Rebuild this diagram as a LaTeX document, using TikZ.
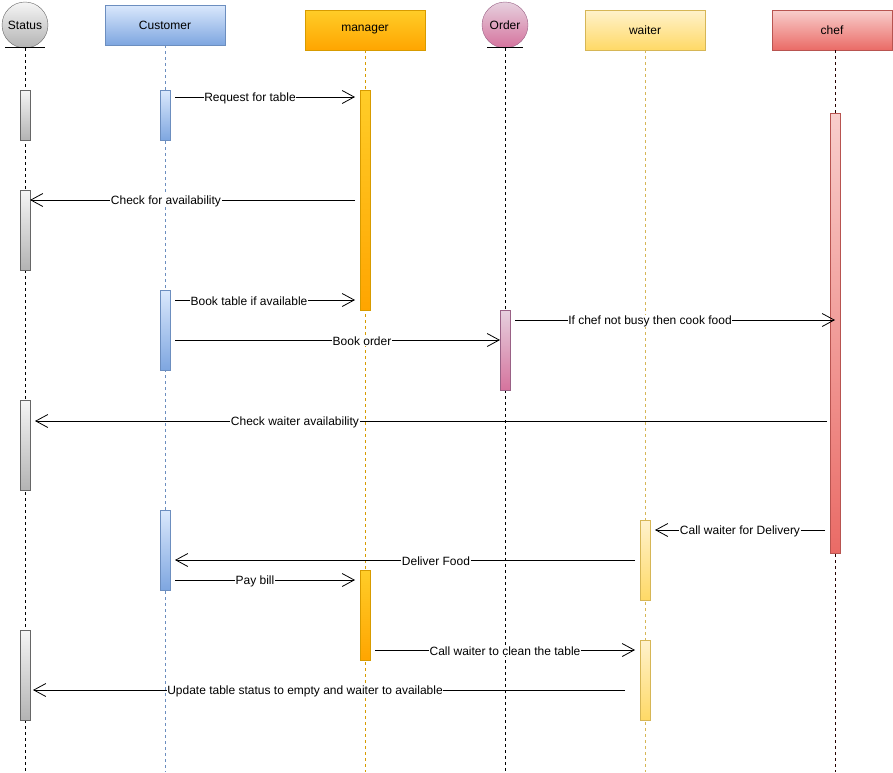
\documentclass[tikz,border=0pt]{standalone}
\usepackage{fontspec}
\setmainfont{Liberation Sans}
\usetikzlibrary{arrows.meta}
\definecolor{grayTop}{HTML}{F5F5F5}
\definecolor{grayBot}{HTML}{B3B3B3}
\definecolor{grayLine}{HTML}{666666}
\definecolor{blueTop}{HTML}{DAE8FC}
\definecolor{blueBot}{HTML}{7EA6E0}
\definecolor{blueLine}{HTML}{6C8EBF}
\definecolor{orangeTop}{HTML}{FFCD28}
\definecolor{orangeBot}{HTML}{FFA500}
\definecolor{orangeLine}{HTML}{D79B00}
\definecolor{pinkTop}{HTML}{E6D0DE}
\definecolor{pinkBot}{HTML}{D5739D}
\definecolor{pinkLine}{HTML}{996185}
\definecolor{yellowTop}{HTML}{FFF2CC}
\definecolor{yellowBot}{HTML}{FFD966}
\definecolor{yellowLine}{HTML}{D6B656}
\definecolor{redTop}{HTML}{F8CECC}
\definecolor{redBot}{HTML}{EA6B66}
\definecolor{redLine}{HTML}{B85450}
\begin{document}
\begin{tikzpicture}[x=1pt,y=-1pt,
  font=\fontsize{12}{14}\selectfont,
  head/.style={draw, minimum width=120pt, minimum height=40pt, inner sep=0pt},
  actor/.style={draw, circle, minimum size=46pt, inner sep=0pt},
  bar/.style={draw, minimum width=10pt, inner sep=0pt, anchor=north},
  gray/.style={top color=grayTop, bottom color=grayBot, draw=grayLine},
  blue/.style={top color=blueTop, bottom color=blueBot, draw=blueLine},
  orange/.style={top color=orangeTop, bottom color=orangeBot, draw=orangeLine},
  pink/.style={top color=pinkTop, bottom color=pinkBot, draw=pinkLine},
  yellow/.style={top color=yellowTop, bottom color=yellowBot, draw=yellowLine},
  red/.style={top color=redTop, bottom color=redBot, draw=redLine},
  life/.style={dash pattern=on 3pt off 3pt, line width=0.8pt},
  msg/.style={line width=0.8pt, -{Straight Barb[length=12pt,width=13pt,line width=0.8pt]}},
  lbl/.style={fill=white, inner sep=0.5pt}]
\useasboundingbox (0,0) rectangle (893,772);

% participants
\node[actor, gray] (status) at (25,25) {Status};
\node[head, blue] (customer) at (165,25) {Customer};
\node[head, orange] (manager) at (365,30) {manager};
\node[actor, pink] (order) at (505,25) {Order};
\node[head, yellow] (waiter) at (645,30) {waiter};
\node[head, red] (chef) at (832,30) {chef};

% actor ground lines
\draw[line width=0.8pt] ([xshift=-20pt,yshift=1pt]status.south) -- ([xshift=20pt,yshift=1pt]status.south);
\draw[line width=0.8pt] ([xshift=-18pt,yshift=1pt]order.south) -- ([xshift=18pt,yshift=1pt]order.south);

% lifelines
\coordinate (statusEnd) at (25,772);
\coordinate (customerEnd) at (165,772);
\coordinate (managerEnd) at (365,772);
\coordinate (orderEnd) at (505,772);
\coordinate (waiterEnd) at (645,772);
\coordinate (chefEnd) at (835,772);
\draw[life] (status.south) -- (statusEnd);
\draw[life, draw=blueLine] (customer.south) -- (customerEnd);
\draw[life, draw=orangeLine] (manager.south) -- (managerEnd);
\draw[life] (order.south) -- (orderEnd);
\draw[life, draw=yellowLine] (waiter.south) -- (waiterEnd);
\draw[life, draw=black!85!red] (chef.south -| chefEnd) -- (chefEnd);

% activation bars
\node[bar, gray, minimum height=50pt] (s1) at (25,90) {};
\node[bar, gray, minimum height=80pt] (s2) at (25,190) {};
\node[bar, gray, minimum height=90pt] (s3) at (25,400) {};
\node[bar, gray, minimum height=90pt] (s4) at (25,630) {};
\node[bar, blue, minimum height=50pt] (c1) at (165,90) {};
\node[bar, blue, minimum height=80pt] (c2) at (165,290) {};
\node[bar, blue, minimum height=80pt] (c3) at (165,510) {};
\node[bar, orange, minimum height=220pt] (m1) at (365,90) {};
\node[bar, orange, minimum height=90pt] (m2) at (365,570) {};
\node[bar, pink, minimum height=80pt] (o1) at (505,310) {};
\node[bar, yellow, minimum height=80pt] (w1) at (645,520) {};
\node[bar, yellow, minimum height=80pt] (w2) at (645,640) {};
\node[bar, red, minimum height=440pt] (f1) at (835,113) {};

% message end points
\coordinate (a1) at (175,97);  \coordinate (b1) at (355,97);
\coordinate (a2) at (355,200); \coordinate (b2) at (30,200);
\coordinate (a3) at (175,300); \coordinate (b3) at (355,300);
\coordinate (a4) at (515,320); \coordinate (b4) at (835,320);
\coordinate (a5) at (175,340); \coordinate (b5) at (500,340);
\coordinate (a6) at (827,421); \coordinate (b6) at (35,421);
\coordinate (a7) at (825,530); \coordinate (b7) at (655,530);
\coordinate (a8) at (635,560); \coordinate (b8) at (175,560);
\coordinate (a9) at (175,580); \coordinate (b9) at (355,580);
\coordinate (a10) at (375,650); \coordinate (b10) at (635,650);
\coordinate (a11) at (625,690); \coordinate (b11) at (33,690);

% messages
\draw[msg] (a1) -- (b1);
\draw[msg] (a2) -- (b2);
\draw[msg] (a3) -- (b3);
\draw[msg] (a4) -- (b4);
\draw[msg] (a5) -- (b5);
\draw[msg] (a6) -- (b6);
\draw[msg] (a7) -- (b7);
\draw[msg] (a8) -- (b8);
\draw[msg] (a9) -- (b9);
\draw[msg] (a10) -- (b10);
\draw[msg] (a11) -- (b11);

% message labels
\node[lbl] (l1) at (250,98) {Request for table};
\node[lbl] (l2) at (166,201) {Check for availability};
\node[lbl] (l3) at (249,301) {Book table if available};
\node[lbl] (l4) at (650,321) {If chef not busy then cook food};
\node[lbl] (l5) at (362,341) {Book order};
\node[lbl] (l6) at (295,422) {Check waiter availability};
\node[lbl] (l7) at (740,531) {Call waiter for Delivery};
\node[lbl] (l8) at (436,561) {Deliver Food};
\node[lbl] (l9) at (255,581) {Pay bill};
\node[lbl] (l10) at (505,651) {Call waiter to clean the table};
\node[lbl] (l11) at (305,691) {Update table status to empty and waiter to available};
\end{tikzpicture}
\end{document}
